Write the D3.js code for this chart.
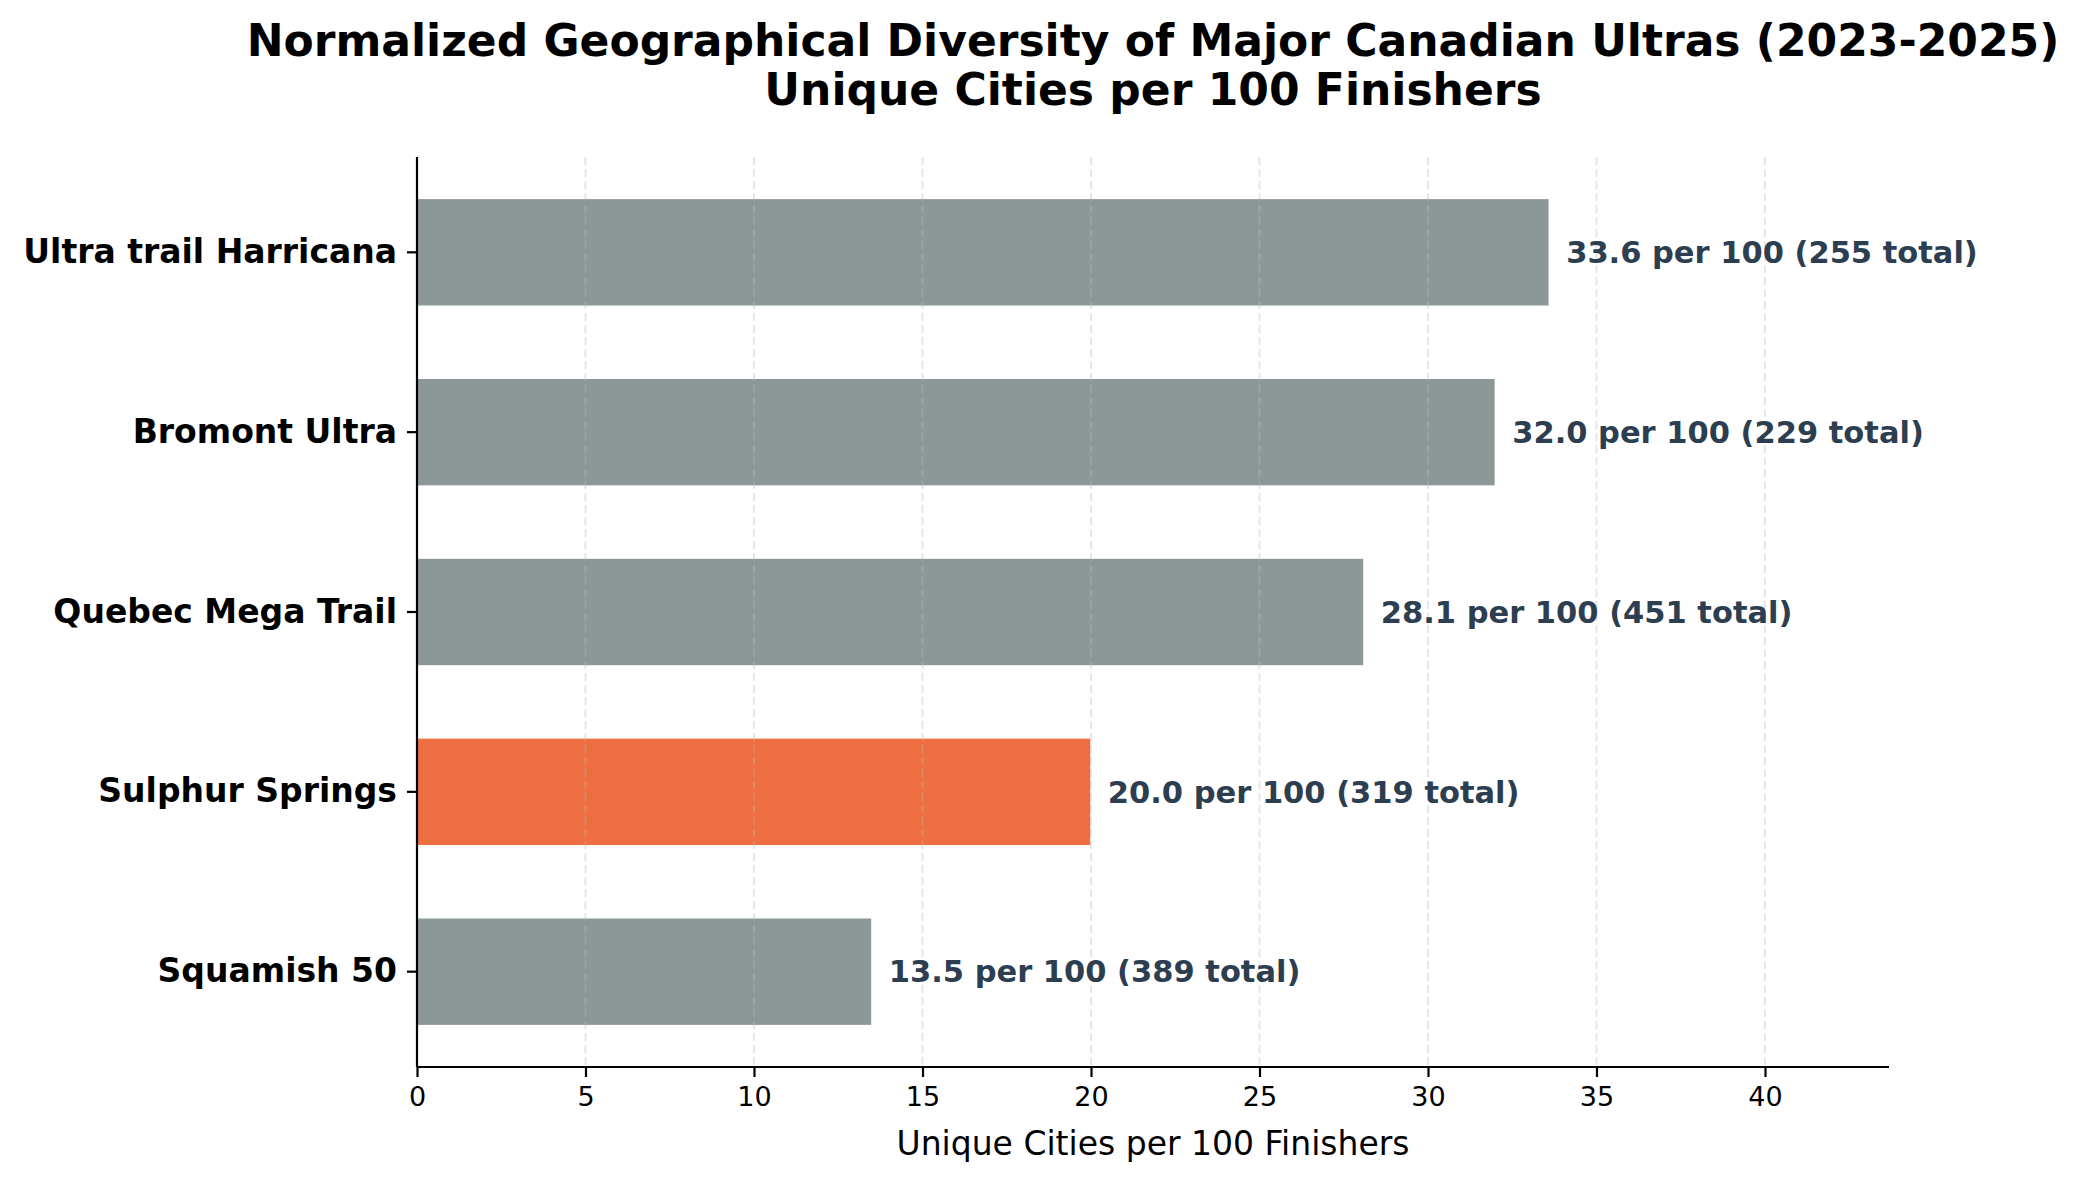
<!DOCTYPE html>
<html>
<head>
<meta charset="utf-8">
<script src="https://cdn.jsdelivr.net/npm/d3@7"></script>
<style>
  body { margin: 0; background: #fff; }
  text { font-family: "DejaVu Sans", sans-serif; }
</style>
</head>
<body>
<svg id="chart" width="2089" height="1179"></svg>
<script>
// race names, top to bottom
var races = ["Ultra trail Harricana", "Bromont Ultra", "Quebec Mega Trail", "Sulphur Springs", "Squamish 50"];
var perHundred = [33.6, 32.0, 28.1, 20.0, 13.5];
var totalCities = [255, 229, 451, 319, 389];
var highlight = "Sulphur Springs";
var xTicks = [0, 5, 10, 15, 20, 25, 30, 35, 40];

var svg = d3.select("#chart"),
    margin = {top: 157, right: 200, bottom: 112, left: 417},
    width = +svg.attr("width") - margin.left - margin.right,
    height = +svg.attr("height") - margin.top - margin.bottom,
    g = svg.append("g").attr("transform", "translate(" + margin.left + "," + margin.top + ")");

var data = races.map(function(r, i) { return {name: r, val: perHundred[i], total: totalCities[i]}; });

var x = d3.scaleLinear()
    .domain([0, d3.max(perHundred) * 1.3])
    .range([0, width]);

var y = d3.scaleBand()
    .domain(races)
    .range([0, height])
    .paddingInner(0.4)
    .paddingOuter(0.23);

// bars
g.selectAll(".bar")
  .data(data)
  .enter().append("rect")
    .attr("class", "bar")
    .attr("x", 0)
    .attr("y", function(d) { return y(d.name); })
    .attr("width", function(d) { return x(d.val); })
    .attr("height", y.bandwidth())
    .attr("fill", function(d) { return d.name == highlight ? "#ed6e41" : "#8c9898"; })
    .attr("stroke", "#fff")
    .attr("stroke-width", 1.5);

// vertical grid (sits over the bars, faint)
g.selectAll(".grid")
  .data(xTicks.slice(1))
  .enter().append("line")
    .attr("class", "grid")
    .attr("x1", function(d) { return x(d); })
    .attr("x2", function(d) { return x(d); })
    .attr("y1", 0)
    .attr("y2", height)
    .attr("stroke", "#b8b8b8")
    .attr("stroke-opacity", 0.35)
    .attr("stroke-width", 2)
    .attr("stroke-dasharray", "8,4");

// value labels
g.selectAll(".lbl")
  .data(data)
  .enter().append("text")
    .attr("class", "lbl")
    .attr("x", function(d) { return x(d.val + 0.5); })
    .attr("y", function(d) { return y(d.name) + y.bandwidth() / 2; })
    .attr("dy", "0.35em")
    .attr("fill", "#2c3e50")
    .attr("font-weight", "bold")
    .attr("font-size", "30.5px")
    .text(function(d) { return d.val.toFixed(1) + " per 100 (" + d.total + " total)"; });

// axes
var xAxis = g.append("g")
    .attr("transform", "translate(0," + height + ")")
    .call(d3.axisBottom(x).tickValues(xTicks).tickSize(10).tickPadding(10));
xAxis.selectAll("text").attr("font-size", "27px").attr("fill", "#000");

var yAxis = g.append("g")
    .call(d3.axisLeft(y).tickSize(10).tickPadding(10));
yAxis.selectAll("text").attr("font-size", "33px").attr("font-weight", "bold").attr("fill", "#000");

svg.selectAll(".domain").attr("stroke", "#000").attr("stroke-width", 2.2);
svg.selectAll(".tick line").attr("stroke", "#000").attr("stroke-width", 2.2);
yAxis.select(".domain").attr("d", "M0,0V" + height);
xAxis.select(".domain").attr("d", "M0,0H" + width);

// axis title
g.append("text")
    .attr("x", width / 2)
    .attr("y", height + 88)
    .attr("text-anchor", "middle")
    .attr("font-size", "33px")
    .text("Unique Cities per 100 Finishers");

// chart title
var title = svg.append("text")
    .attr("x", margin.left + width / 2)
    .attr("text-anchor", "middle")
    .attr("font-size", "44px")
    .attr("font-weight", "bold");
title.append("tspan").attr("x", margin.left + width / 2).attr("y", 56)
    .text("Normalized Geographical Diversity of Major Canadian Ultras (2023-2025)");
title.append("tspan").attr("x", margin.left + width / 2).attr("y", 105)
    .text("Unique Cities per 100 Finishers");
</script>
</body>
</html>
